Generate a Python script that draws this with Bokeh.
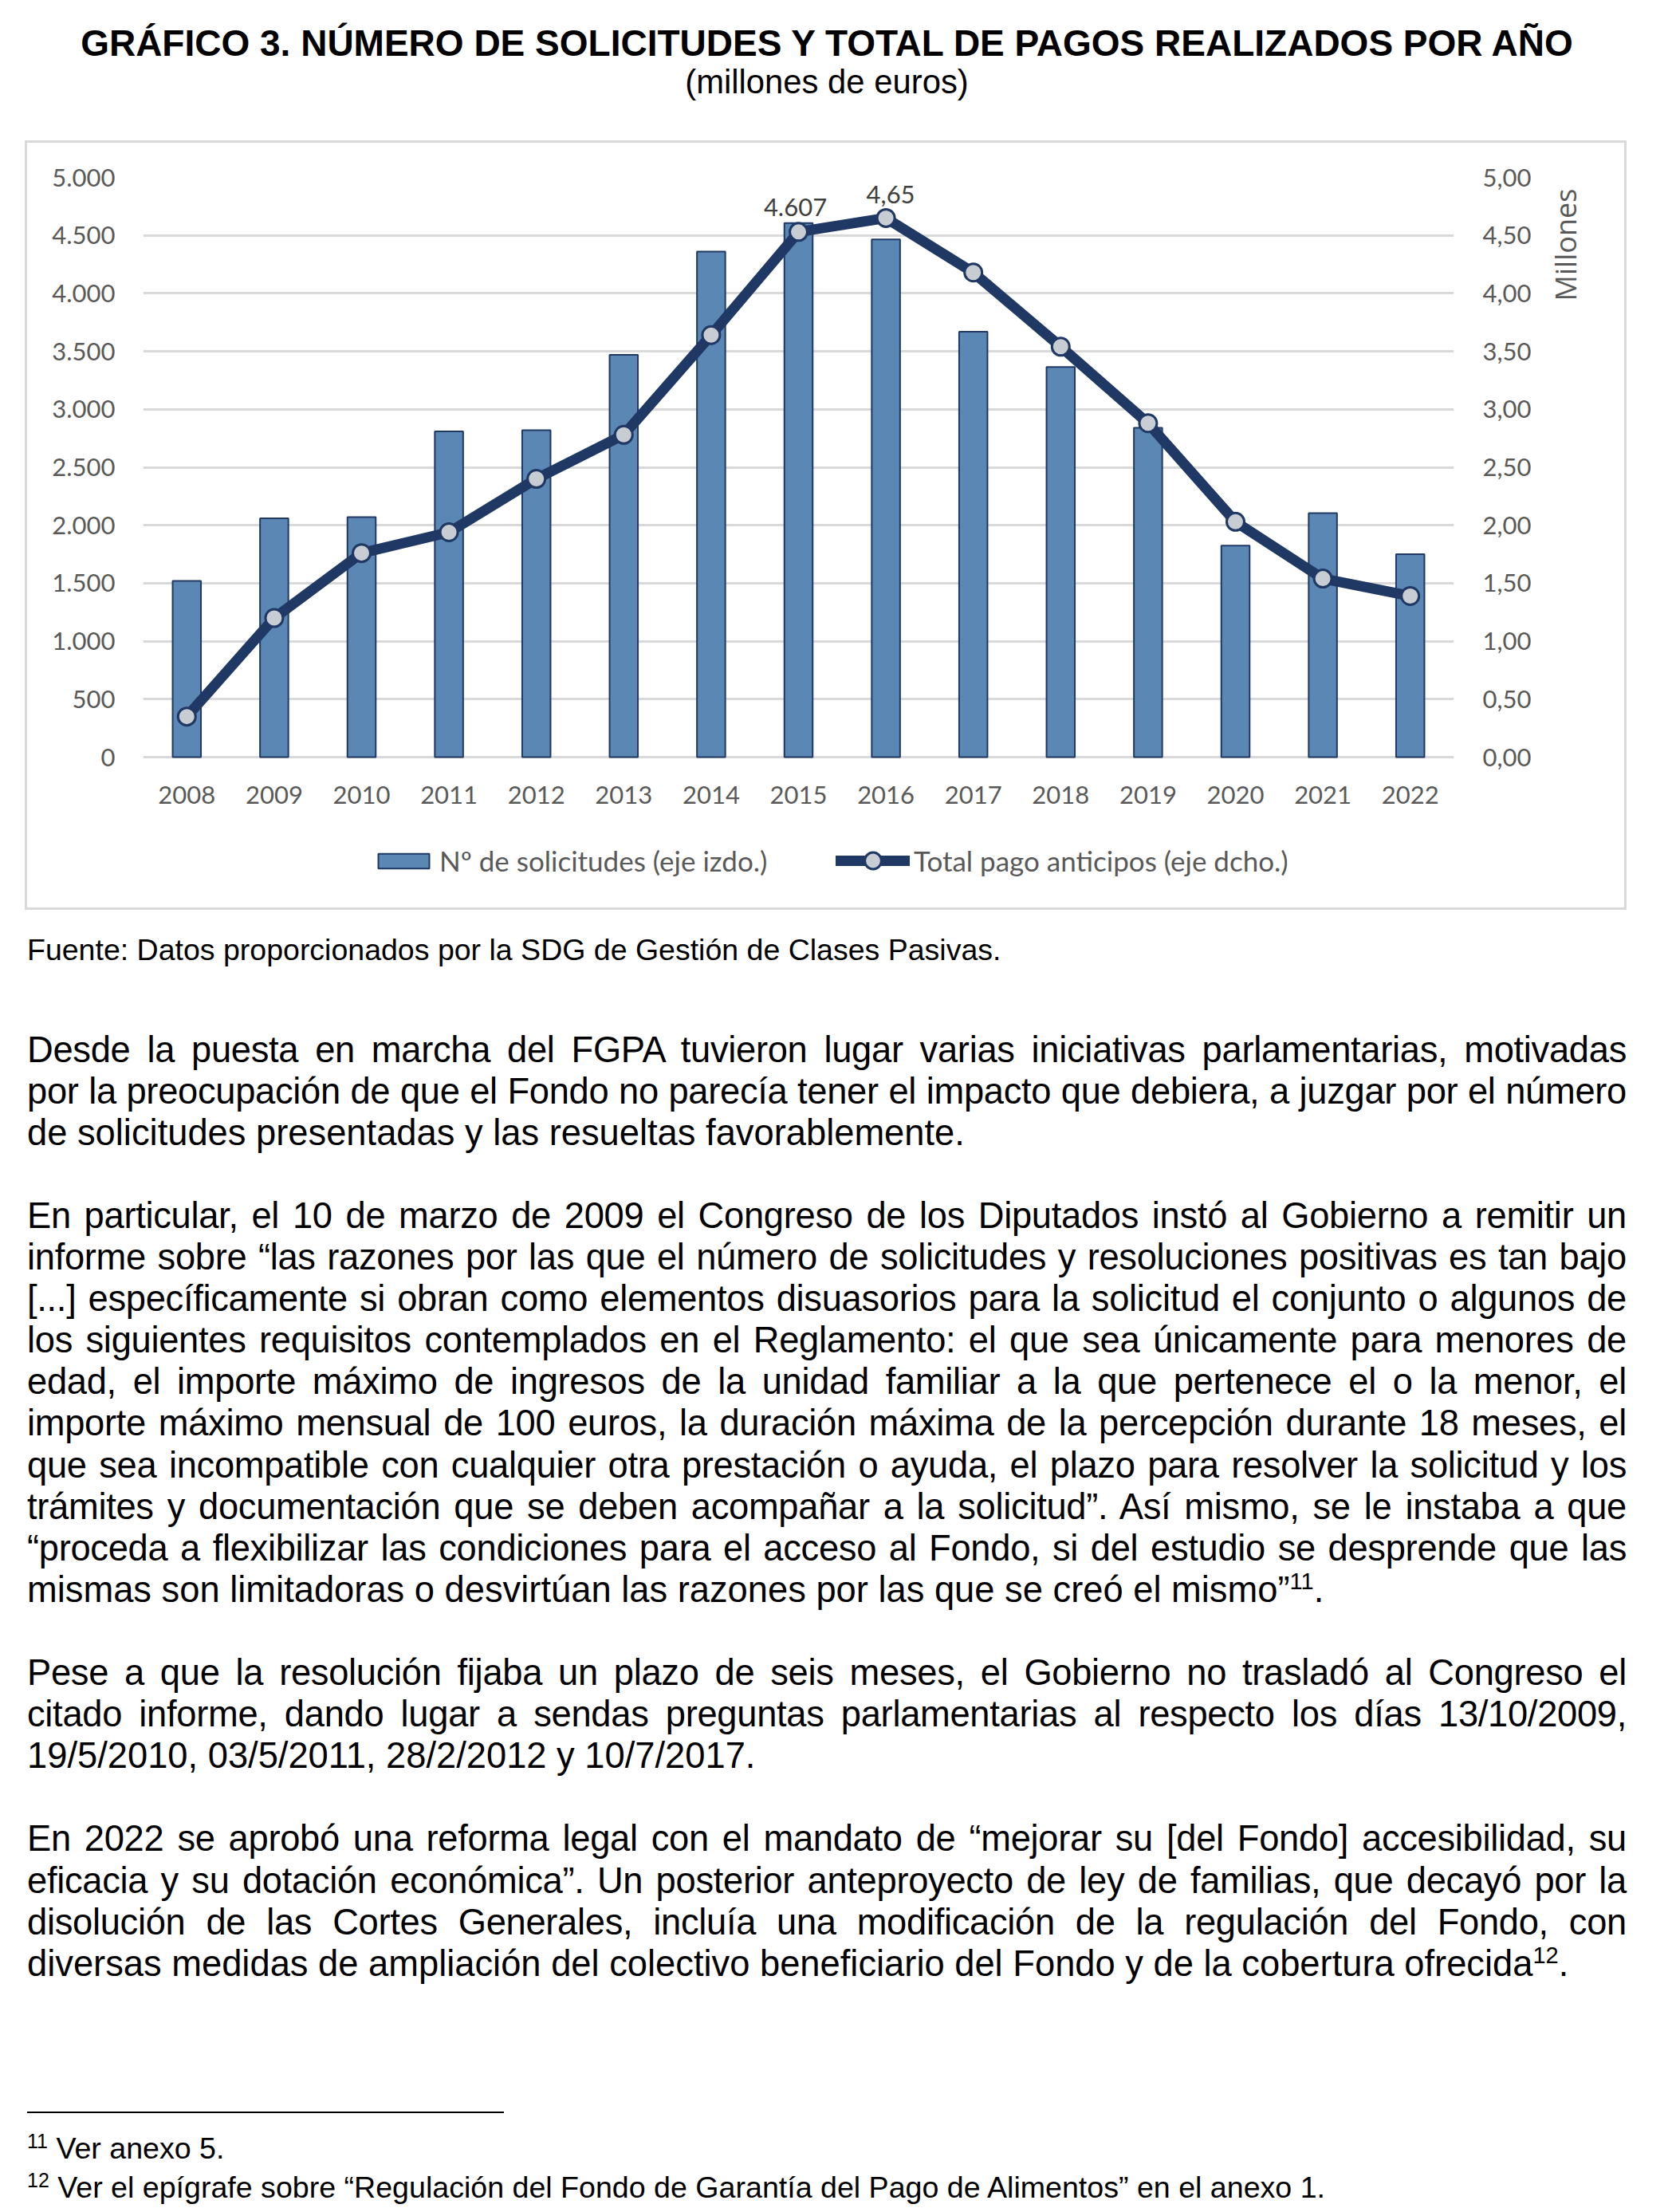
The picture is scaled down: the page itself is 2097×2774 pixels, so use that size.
import math
from bokeh.plotting import figure
from bokeh.models import (FactorRange, Range1d, LinearAxis, FixedTicker, Legend,
                          LegendItem, Div)
from bokeh.layouts import column
from bokeh.embed import file_html
from bokeh.resources import INLINE
from bokeh.core.properties import value

# ---------------- data ----------------
years = ["2008", "2009", "2010", "2011", "2012", "2013", "2014", "2015",
         "2016", "2017", "2018", "2019", "2020", "2021", "2022"]
solicitudes = [1520, 2060, 2070, 2810, 2820, 3470, 4360, 4607,
               4465, 3670, 3365, 2840, 1825, 2105, 1750]
pagos = [0.35, 1.20, 1.76, 1.94, 2.40, 2.78, 3.64, 4.53,
         4.65, 4.18, 3.54, 2.88, 2.03, 1.54, 1.39]

left_ticks = [0, 500, 1000, 1500, 2000, 2500, 3000, 3500, 4000, 4500, 5000]
left_labels = ["0", "500", "1.000", "1.500", "2.000", "2.500", "3.000",
               "3.500", "4.000", "4.500", "5.000"]
right_ticks = [0.0, 0.5, 1.0, 1.5, 2.0, 2.5, 3.0, 3.5, 4.0, 4.5, 5.0]
right_labels = ["0,00", "0,50", "1,00", "1,50", "2,00", "2,50", "3,00",
                "3,50", "4,00", "4,50", "5,00"]

bar_label_years = ["2015"]
bar_label_text = ["4.607"]
line_label_years = ["2016"]
line_label_text = ["4,65"]

series_names = ["Nº de solicitudes (eje izdo.)", "Total pago anticipos (eje dcho.)"]
right_unit_label = "Millones"

TITLE = "GRÁFICO 3. NÚMERO DE SOLICITUDES Y TOTAL DE PAGOS REALIZADOS POR AÑO"
SUBTITLE = "(millones de euros)"
SOURCE = "Fuente: Datos proporcionados por la SDG de Gestión de Clases Pasivas."

paragraphs = [
    ["Desde la puesta en marcha del FGPA tuvieron lugar varias iniciativas parlamentarias, motivadas",
     "por la preocupación de que el Fondo no parecía tener el impacto que debiera, a juzgar por el número",
     "de solicitudes presentadas y las resueltas favorablemente."],
    ["En particular, el 10 de marzo de 2009 el Congreso de los Diputados instó al Gobierno a remitir un",
     "informe sobre “las razones por las que el número de solicitudes y resoluciones positivas es tan bajo",
     "[...] específicamente si obran como elementos disuasorios para la solicitud el conjunto o algunos de",
     "los siguientes requisitos contemplados en el Reglamento: el que sea únicamente para menores de",
     "edad, el importe máximo de ingresos de la unidad familiar a la que pertenece el o la menor, el",
     "importe máximo mensual de 100 euros, la duración máxima de la percepción durante 18 meses, el",
     "que sea incompatible con cualquier otra prestación o ayuda, el plazo para resolver la solicitud y los",
     "trámites y documentación que se deben acompañar a la solicitud”. Así mismo, se le instaba a que",
     "“proceda a flexibilizar las condiciones para el acceso al Fondo, si del estudio se desprende que las",
     "mismas son limitadoras o desvirtúan las razones por las que se creó el mismo”{11}."],
    ["Pese a que la resolución fijaba un plazo de seis meses, el Gobierno no trasladó al Congreso el",
     "citado informe, dando lugar a sendas preguntas parlamentarias al respecto los días 13/10/2009,",
     "19/5/2010, 03/5/2011, 28/2/2012 y 10/7/2017."],
    ["En 2022 se aprobó una reforma legal con el mandato de “mejorar su [del Fondo] accesibilidad, su",
     "eficacia y su dotación económica”. Un posterior anteproyecto de ley de familias, que decayó por la",
     "disolución de las Cortes Generales, incluía una modificación de la regulación del Fondo, con",
     "diversas medidas de ampliación del colectivo beneficiario del Fondo y de la cobertura ofrecida{12}."],
]
footnotes = [("11", "Ver anexo 5."),
             ("12", "Ver el epígrafe sobre “Regulación del Fondo de Garantía del Pago de Alimentos” en el anexo 1.")]

# ---------------- style ----------------
BAR_FILL = "#5b87b5"
NAVY = "#203864"
MARK_FILL = "#c8ccd3"
GRID = "#d9d9d9"
TICK_COL = "#595959"
CHART_FONT = "Lato"
CF_SIZE = "31px"
TXT_FONT = "'Liberation Sans', Arial, sans-serif"

# ---------------- header ----------------
header_html = f"""
<div style="position:relative;width:2081px;height:168px;">
  <div style="position:absolute;left:29px;top:22.6px;width:2000px;text-align:center;
       font-family:{TXT_FONT};font-weight:bold;font-size:46px;line-height:46px;color:#000;
       white-space:nowrap;">{TITLE}</div>
  <div style="position:absolute;left:29px;top:74px;width:2000px;text-align:center;
       font-family:{TXT_FONT};font-size:41.8px;line-height:41.8px;color:#000;
       white-space:nowrap;">{SUBTITLE}</div>
</div>
"""
header = Div(text=header_html, width=2081, height=168, margin=(0, 0, 0, 0))

# ---------------- chart ----------------
# the plot frame is extended below zero so that the legend can sit inside it
p = figure(x_range=FactorRange(factors=years, range_padding=0),
           y_range=Range1d(-1100, 5000),
           width=2009, height=965, output_backend="svg", toolbar_location=None,
           min_border_left=145, min_border_right=220, min_border_top=43,
           min_border_bottom=35, outline_line_color=None,
           background_fill_color="white", border_fill_color=None)
p.margin = (0, 0, 0, 23)
p.styles = {"border": "3px solid #d9d9d9"}
p.extra_y_ranges = {"r": Range1d(-1.1, 5)}

p.xgrid.grid_line_color = None
p.ygrid.grid_line_color = GRID
p.ygrid.grid_line_width = 3
p.ygrid.ticker = FixedTicker(ticks=left_ticks)

def style_axis(ax, standoff):
    ax.axis_line_color = None
    ax.major_tick_line_color = None
    ax.minor_tick_line_color = None
    ax.major_tick_out = 0
    ax.major_tick_in = 0
    ax.major_label_standoff = standoff
    ax.major_label_text_font = CHART_FONT
    ax.major_label_text_font_size = CF_SIZE
    ax.major_label_text_color = TICK_COL

ly = p.yaxis[0]
ly.ticker = FixedTicker(ticks=left_ticks)
ly.major_label_overrides = {t: l for t, l in zip(left_ticks, left_labels)}
style_axis(ly, 35)

ry = LinearAxis(y_range_name="r", ticker=FixedTicker(ticks=right_ticks))
ry.major_label_overrides = {t: l for t, l in zip(right_ticks, right_labels)}
style_axis(ry, 36)
p.add_layout(ry, "right")

xa = p.xaxis[0]
style_axis(xa, 36)
xa.fixed_location = 0

bars = p.vbar(x=years, top=solicitudes, width=0.324, fill_color=BAR_FILL,
              line_color=NAVY, line_width=2)
line_r = p.line(x=years, y=pagos, y_range_name="r", line_color=NAVY,
                line_width=13, line_join="round", line_cap="round")
pts = p.scatter(x=years, y=pagos, y_range_name="r", size=22, marker="circle",
                fill_color=MARK_FILL, line_color=NAVY, line_width=3)

# data labels
bl_y = [solicitudes[years.index(y)] for y in bar_label_years]
p.text(x=bar_label_years, y=bl_y, text=bar_label_text, text_align="center",
       text_baseline="alphabetic", y_offset=-20, x_offset=-4,
       text_font=value(CHART_FONT), text_font_size=CF_SIZE, text_color="#404040")
ll_y = [pagos[years.index(y)] for y in line_label_years]
p.text(x=line_label_years, y=ll_y, text=line_label_text, y_range_name="r",
       text_align="center", text_baseline="alphabetic", y_offset=-29, x_offset=6,
       text_font=value(CHART_FONT), text_font_size=CF_SIZE, text_color="#404040")

def mk_legend(item, loc, gw, gh):
    return Legend(items=[item], location=loc, orientation="horizontal",
                  padding=0, margin=0, border_line_color=None,
                  background_fill_alpha=0, glyph_width=gw, glyph_height=gh,
                  label_standoff=5, label_text_font=CHART_FONT,
                  label_text_font_size="35px", label_text_color=TICK_COL)

p.add_layout(mk_legend(LegendItem(label=series_names[0], renderers=[bars]), (287, 9), 80, 23))
p.add_layout(mk_legend(LegendItem(label=series_names[1], renderers=[line_r, pts]), (869, 4), 93, 52))

# ---------------- body text ----------------
def sup(s):
    return s.replace("{11}", "<span style='font-size:29px;position:relative;top:-16px;letter-spacing:0;'>11</span>") \
            .replace("{12}", "<span style='font-size:29px;position:relative;top:-16px;letter-spacing:0;'>12</span>")

parts = []
# unit label of the right axis ("Millones"), placed over the chart's right margin
parts.append(f"""<div style="position:absolute;left:1955.5px;top:-834.5px;transform:translate(-50%,-50%) rotate(-90deg);
  font-family:'Open Sans';font-size:36px;line-height:36px;color:{TICK_COL};white-space:nowrap;">{right_unit_label}</div>""")
parts.append(f"""<div style="position:absolute;left:26px;top:31.5px;font-family:{TXT_FONT};
  font-size:37.5px;line-height:37.5px;white-space:nowrap;color:#000;">{SOURCE}</div>""")
idx = 0
for para in paragraphs:
    for i, ln in enumerate(para):
        last = (i == len(para) - 1)
        align = "left" if last else "justify"
        ls = "0px" if last else "-0.3px"
        top = 152.5 + idx * 52.1
        parts.append(f"""<div style="position:absolute;left:26px;top:{top:.1f}px;width:2006px;
  font-family:{TXT_FONT};font-size:45.3px;line-height:45.3px;color:#000;white-space:nowrap;
  letter-spacing:{ls};text-align:{align};text-align-last:{align};">{sup(ln)}</div>""")
        idx += 1
    idx += 1
parts.append("""<div style="position:absolute;left:26px;top:1507px;width:598px;height:2px;background:#000;"></div>""")
fn_tops = [1535, 1584]
for (num, txt), top in zip(footnotes, fn_tops):
    parts.append(f"""<div style="position:absolute;left:26px;top:{top}px;font-family:{TXT_FONT};
  font-size:37.6px;line-height:37.6px;white-space:nowrap;color:#000;"><span style="font-size:25px;position:relative;top:-13px;">{num}</span> {txt}</div>""")

body_html = '<div style="position:relative;width:2081px;height:1617px;">' + "\n".join(parts) + "</div>"
body = Div(text=body_html, width=2081, height=1617, margin=(0, 0, 0, 0))

layout = column(header, p, body, spacing=0, margin=(8, 8, 8, 8))
open("out.html", "w").write(file_html(layout, INLINE))
